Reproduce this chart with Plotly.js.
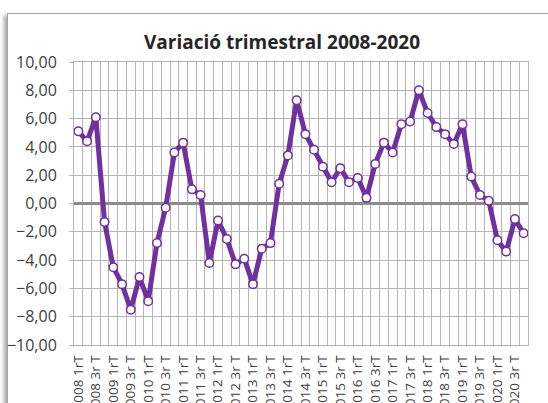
<!DOCTYPE html>
<html>
<head>
<meta charset="utf-8">
<script src="https://cdn.plot.ly/plotly-3.0.1.min.js"></script>
<style>
  html, body { margin: 0; padding: 0; background: #ffffff; overflow: hidden; }
  #frame { position: absolute; left: 7px; top: 13px; width: 600px; height: 460px;
           border: 1px solid #a6a6a6; box-shadow: -3px 2px 4px rgba(0,0,0,0.35); background: #fff; }
  #chart { position: absolute; left: 0; top: 0; width: 548px; height: 403px; }
</style>
</head>
<body>
<div id="frame"></div>
<div id="chart"></div>
<script>
// Quarter categories (2008 Q1 .. 2020 Q4)
const quarters = [
  "2008 1rT","2008 2n T","2008 3r T","2008 4t T",
  "2009 1rT","2009 2n T","2009 3r T","2009 4t T",
  "2010 1rT","2010 2n T","2010 3r T","2010 4t T",
  "2011 1rT","2011 2n T","2011 3r T","2011 4t T",
  "2012 1rT","2012 2n T","2012 3r T","2012 4t T",
  "2013 1rT","2013 2n T","2013 3r T","2013 4t T",
  "2014 1rT","2014 2n T","2014 3r T","2014 4t T",
  "2015 1rT","2015 2n T","2015 3r T","2015 4t T",
  "2016 1rT","2016 2n T","2016 3rT","2016 4t T",
  "2017 1rT","2017 2n T","2017 3r T","2017 4t T",
  "2018 1rT","2018 2n T","2018 3r T","2018 4t T",
  "2019 1rT","2019 2n T","2019 3r T","2019 4t T",
  "2020 1rT","2020 2n T","2020 3r T","2020 4t T"
];
// Tick labels shown (every second quarter)
const tickLabels = [
  "2008 1rT","2008 3r T","2009 1rT","2009 3r T","2010 1rT","2010 3r T",
  "2011 1rT","2011 3r T","2012 1rT","2012 3r T","2013 1rT","2013 3r T",
  "2014 1rT","2014 3r T","2015 1rT","2015 3r T","2016 1rT","2016 3rT",
  "2017 1rT","2017 3r T","2018 1rT","2018 3r T","2019 1rT","2019 3r T",
  "2020 1rT","2020 3r T"
];
// Quarterly variation values
const variation = [
   5.1,  4.4,  6.1, -1.3,
  -4.5, -5.7, -7.5, -5.2,
  -6.9, -2.8, -0.3,  3.6,
   4.3,  1.0,  0.6, -4.2,
  -1.2, -2.5, -4.3, -3.9,
  -5.7, -3.2, -2.8,  1.4,
   3.4,  7.3,  4.9,  3.8,
   2.6,  1.5,  2.5,  1.5,
   1.8,  0.4,  2.8,  4.3,
   3.6,  5.6,  5.8,  8.0,
   6.4,  5.4,  4.9,  4.2,
   5.6,  1.9,  0.6,  0.2,
  -2.6, -3.4, -1.1, -2.1
];

const tickText = quarters.map(q => tickLabels.includes(q) ? q : "");

const trace = {
  x: quarters,
  y: variation,
  type: "scatter",
  mode: "lines+markers",
  line: { color: "#7030A0", width: 5 },
  marker: { size: 8.5, color: "#ffffff", line: { color: "#7030A0", width: 1.5 } },
  hoverinfo: "x+y"
};

const layout = {
  width: 548, height: 403,
  paper_bgcolor: "rgba(0,0,0,0)",
  plot_bgcolor: "#ffffff",
  separators: ",.",
  showlegend: false,
  margin: { l: 74, r: 20, t: 62, b: 58, autoexpand: false },
  font: { family: "Open Sans, sans-serif", color: "#404040" },
  title: {
    text: "<b>Variació trimestral 2008-2020</b>",
    font: { family: "Open Sans, sans-serif", size: 19, color: "#262626" },
    x: 282 / 548, xanchor: "center", xref: "container",
    y: 1 - 42 / 403, yanchor: "middle", yref: "container"
  },
  xaxis: {
    type: "category",
    categoryorder: "array",
    categoryarray: quarters,
    range: [-0.5, quarters.length - 0.5],
    autorange: false,
    tickmode: "array",
    tickvals: quarters,
    ticktext: tickText,
    tickson: "boundaries",
    ticks: "",
    tickangle: -90,
    ticklabelstandoff: 4,
    tickfont: { family: "Open Sans, sans-serif", size: 13.5, color: "#404040" },
    showgrid: true, gridcolor: "#b4b4b4", gridwidth: 1,
    showline: true, linecolor: "#b4b4b4", linewidth: 1, mirror: true,
    zeroline: false,
    automargin: false,
    fixedrange: true
  },
  yaxis: {
    range: [-10, 10],
    autorange: false,
    dtick: 2,
    tick0: 0,
    tickformat: ".2f",
    ticks: "outside", ticklen: 4, tickcolor: "#b4b4b4",
    ticklabelstandoff: 9,
    tickfont: { family: "Open Sans, sans-serif", size: 16, color: "#404040" },
    showgrid: true, gridcolor: "#b4b4b4", gridwidth: 1,
    showline: true, linecolor: "#b4b4b4", linewidth: 1, mirror: true,
    zeroline: true, zerolinecolor: "#8c8c8c", zerolinewidth: 3,
    automargin: false,
    fixedrange: true
  }
};

Plotly.newPlot("chart", [trace], layout, { displayModeBar: false, staticPlot: true });
</script>
</body>
</html>
